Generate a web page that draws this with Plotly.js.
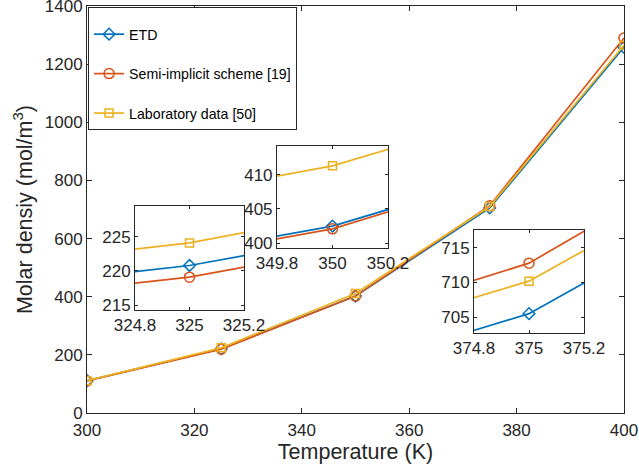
<!DOCTYPE html>
<html>
<head>
<meta charset="utf-8">
<script src="https://cdn.plot.ly/plotly-3.0.1.min.js"></script>
<style>html,body{margin:0;padding:0;background:#fff;}#chart{width:639px;height:473px;}</style>
</head>
<body>
<div id="chart"></div>
<script>
// ---- data ----
const temperature = [300, 325, 350, 375, 400];
const etd = [111, 220.8, 402.5, 705.5, 1258];
const semiImplicit = [110, 219.1, 402.1, 712.8, 1290];
const labData = [111, 224.1, 411.3, 710.2, 1265];

const seriesNames = ['ETD', 'Semi-implicit scheme [19]', 'Laboratory data [50]'];

const mainXTicks = [300, 320, 340, 360, 380, 400];
const mainYTicks = [0, 200, 400, 600, 800, 1000, 1200, 1400];

const inset1XTicks = [324.8, 325, 325.2];
const inset1XLabels = ['324.8', '325', '325.2'];
const inset1YTicks = [215, 220, 225];
const inset2XTicks = [349.8, 350, 350.2];
const inset2XLabels = ['349.8', '350', '350.2'];
const inset2YTicks = [400, 405, 410];
const inset3XTicks = [374.8, 375, 375.2];
const inset3XLabels = ['374.8', '375', '375.2'];
const inset3YTicks = [705, 710, 715];

// ---- style ----
const FONT = 'Liberation Sans, Arial, Helvetica, sans-serif';
const AX = '#262626';
const colors = ['#0072BD', '#D95319', '#EDB120'];
const symbols = ['diamond-open', 'circle-open', 'square-open'];
const msizes = [9, 10, 8];
const ys = [etd, semiImplicit, labData];

const traces = [];
const axesSets = [['x', 'y'], ['x2', 'y2'], ['x3', 'y3'], ['x4', 'y4']];
axesSets.forEach((ax, k) => {
  ys.forEach((yv, i) => {
    traces.push({
      x: temperature, y: yv, type: 'scatter', mode: 'lines+markers',
      name: seriesNames[i], legendgroup: 'g' + i, showlegend: k === 0,
      xaxis: ax[0], yaxis: ax[1],
      line: {color: colors[i], width: 1.7},
      marker: {symbol: symbols[i], size: msizes[i], color: colors[i], line: {color: colors[i], width: 1.5}},
      cliponaxis: true, hoverinfo: 'skip'
    });
  });
});

function axisBase(extra) {
  return Object.assign({
    showline: true, linecolor: AX, linewidth: 1, mirror: 'allticks',
    ticks: 'inside', tickcolor: AX, tickwidth: 1, ticklen: 5,
    showgrid: false, zeroline: false, ticklabeloverflow: 'allow',
    tickfont: {family: FONT, size: 17, color: AX}, fixedrange: true
  }, extra);
}

function insetAxes(n, xdom, ydom, xr, yr, xt, xl, yt) {
  const o = {};
  o['xaxis' + n] = axisBase({domain: xdom, anchor: 'y' + n, range: xr, tickmode: 'array', tickvals: xt, ticktext: xl, ticklen: 3});
  o['yaxis' + n] = axisBase({domain: ydom, anchor: 'x' + n, range: yr, tickmode: 'array', tickvals: yt, ticklen: 3});
  return o;
}

const layout = Object.assign({
  width: 639, height: 473,
  margin: {l: 87, r: 15, t: 6, b: 60},
  paper_bgcolor: '#fff', plot_bgcolor: '#fff',
  font: {family: FONT, color: AX},
  showlegend: true,
  legend: {
    x: 0.002, y: 0.9975, xanchor: 'left', yanchor: 'top',
    bgcolor: '#fff', bordercolor: AX, borderwidth: 1,
    font: {family: FONT, size: 14.2, color: '#000'},
    title: {text: ' ', font: {family: FONT, size: 8}},
    traceorder: 'grouped', tracegroupgap: 18
  },
  xaxis: axisBase({range: [300, 400], tickmode: 'array', tickvals: mainXTicks, ticklabelstandoff: 2,
    title: {text: 'Temperature (K)', font: {family: FONT, size: 21.5, color: AX}, standoff: 2}}),
  yaxis: axisBase({range: [0, 1400], tickmode: 'array', tickvals: mainYTicks,
    title: {text: 'Molar densiy (mol/m<sup>3</sup>)', font: {family: FONT, size: 21.5, color: AX}, standoff: 6}})
},
  insetAxes(2, [0.0894, 0.2924], [0.2531, 0.5086], [324.8, 325.2], [214.3, 229.5], inset1XTicks, inset1XLabels, inset1YTicks),
  insetAxes(3, [0.3538, 0.5605], [0.4054, 0.6560], [349.8, 350.2], [399.3, 414.2], inset2XTicks, inset2XLabels, inset2YTicks),
  insetAxes(4, [0.7207, 0.9255], [0.1966, 0.4496], [374.8, 375.2], [702.7, 717.6], inset3XTicks, inset3XLabels, inset3YTicks)
);

Plotly.newPlot('chart', traces, layout, {staticPlot: true, displayModeBar: false});
</script>
</body>
</html>
